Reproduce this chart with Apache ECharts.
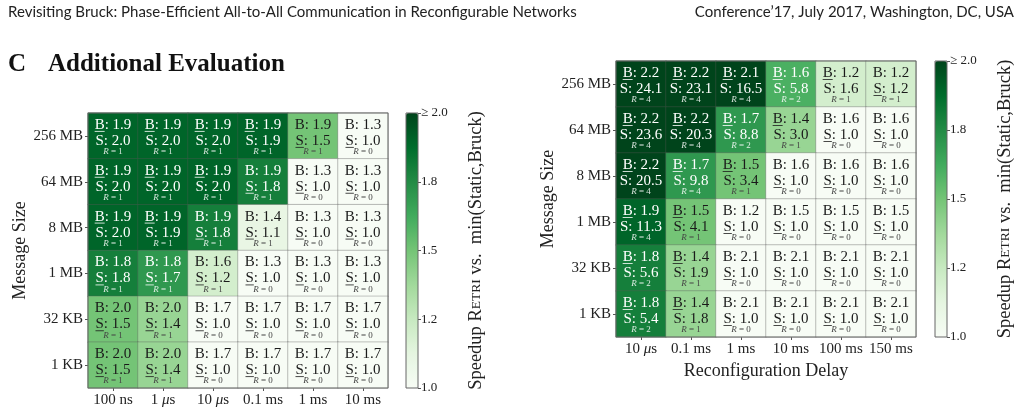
<!DOCTYPE html>
<html>
<head>
<meta charset="utf-8">
<script src="https://cdn.jsdelivr.net/npm/echarts@6/dist/echarts.min.js"></script>
<style>
  html, body { margin: 0; padding: 0; background: #fff; }
  #chart { width: 1022px; height: 409px; }
</style>
</head>
<body>
<div id="chart"></div>
<script>
// message sizes, top row first
const sizes = ['256 MB', '64 MB', '8 MB', '1 MB', '32 KB', '1 KB']
const leftDelays = ['100 ns', '1 μs', '10 μs', '0.1 ms', '1 ms', '10 ms']
const rightDelays = ['10 μs', '0.1 ms', '1 ms', '10 ms', '100 ms', '150 ms']

// B: speedup vs Bruck, S: speedup vs static, R: reconfigurations
const leftB = [
  [1.9, 1.9, 1.9, 1.9, 1.9, 1.3],
  [1.9, 1.9, 1.9, 1.9, 1.3, 1.3],
  [1.9, 1.9, 1.9, 1.4, 1.3, 1.3],
  [1.8, 1.8, 1.6, 1.3, 1.3, 1.3],
  [2.0, 2.0, 1.7, 1.7, 1.7, 1.7],
  [2.0, 2.0, 1.7, 1.7, 1.7, 1.7]
]
const leftS = [
  [2.0, 2.0, 2.0, 1.9, 1.5, 1.0],
  [2.0, 2.0, 2.0, 1.8, 1.0, 1.0],
  [2.0, 1.9, 1.8, 1.1, 1.0, 1.0],
  [1.8, 1.7, 1.2, 1.0, 1.0, 1.0],
  [1.5, 1.4, 1.0, 1.0, 1.0, 1.0],
  [1.5, 1.4, 1.0, 1.0, 1.0, 1.0]
]
const leftR = [
  [1, 1, 1, 1, 1, 0],
  [1, 1, 1, 1, 0, 0],
  [1, 1, 1, 1, 0, 0],
  [1, 1, 1, 0, 0, 0],
  [1, 1, 0, 0, 0, 0],
  [1, 1, 0, 0, 0, 0]
]
// which baseline is the smaller one (underlined)
const leftLow = ['BBBBSS', 'BBBSSS', 'BBSSSS', 'SSSSSS', 'SSSSSS', 'SSSSSS']

const rightB = [
  [2.2, 2.2, 2.1, 1.6, 1.2, 1.2],
  [2.2, 2.2, 1.7, 1.4, 1.6, 1.6],
  [2.2, 1.7, 1.5, 1.6, 1.6, 1.6],
  [1.9, 1.5, 1.2, 1.5, 1.5, 1.5],
  [1.8, 1.4, 2.1, 2.1, 2.1, 2.1],
  [1.8, 1.4, 2.1, 2.1, 2.1, 2.1]
]
const rightS = [
  [24.1, 23.1, 16.5, 5.8, 1.6, 1.2],
  [23.6, 20.3, 8.8, 3.0, 1.0, 1.0],
  [20.5, 9.8, 3.4, 1.0, 1.0, 1.0],
  [11.3, 4.1, 1.0, 1.0, 1.0, 1.0],
  [5.6, 1.9, 1.0, 1.0, 1.0, 1.0],
  [5.4, 1.8, 1.0, 1.0, 1.0, 1.0]
]
const rightR = [
  [4, 4, 4, 2, 1, 1],
  [4, 4, 2, 1, 0, 0],
  [4, 4, 1, 0, 0, 0],
  [4, 1, 0, 0, 0, 0],
  [2, 1, 0, 0, 0, 0],
  [2, 1, 0, 0, 0, 0]
]
const rightLow = ['BBBBBS', 'BBBBSS', 'BBBSSS', 'BBSSSS', 'BBSSSS', 'BBSSSS']

const cbarTicks = { 1: '1.0', 1.25: '1.2', 1.5: '1.5', 1.75: '1.8', 2: '≥ 2.0' }

const greens = ['#f7fcf5', '#e5f5e0', '#c7e9c0', '#a1d99b', '#74c476', '#41ab5d', '#238b45', '#006d2c', '#00441b']
const serif = '"Liberation Serif", "DejaVu Serif", serif'

const measureCtx = document.createElement('canvas').getContext('2d')
function textWidth(txt, font) {
  measureCtx.font = font
  return measureCtx.measureText(txt).width
}

function heatData(B, S) {
  const out = []
  B.forEach((row, r) => {
    row.forEach((b, c) => {
      out.push([c, r, Math.min(2, b, S[r][c])])
    })
  })
  return out
}

function cellIndex(B) {
  const out = []
  B.forEach((row, r) => row.forEach((b, c) => out.push([c, r])))
  return out
}

function cellText(B, S, R, low) {
  const mainFont = '15px ' + serif
  return function(params, api) {
    const c = api.value(0)
    const r = api.value(1)
    const p = api.coord([c, r])
    const b = B[r][c]
    const s = S[r][c]
    const v = Math.min(b, s)
    const dark = v >= 1.55
    const fill = dark ? '#ffffff' : '#1a1a1a'
    const soft = dark ? 'rgba(255,255,255,0.85)' : '#444'
    const bTxt = 'B: ' + b.toFixed(1)
    const sTxt = 'S: ' + s.toFixed(1)
    const isB = low[r][c] === 'B'
    const lineTxt = isB ? bTxt : sTxt
    const lineY = isB ? p[1] - 11 : p[1] + 5
    const x0 = p[0] - textWidth(lineTxt, mainFont) / 2
    const w = textWidth(isB ? 'B' : 'S', mainFont)
    return {
      type: 'group',
      children: [
        { type: 'text', x: p[0], y: p[1] - 11, style: { text: bTxt, font: mainFont, fill: fill, align: 'center', verticalAlign: 'middle' } },
        { type: 'text', x: p[0], y: p[1] + 5, style: { text: sTxt, font: mainFont, fill: fill, align: 'center', verticalAlign: 'middle' } },
        {
          type: 'text', x: p[0], y: p[1] + 16,
          style: {
            text: '{i|R} = ' + R[r][c], font: '9px ' + serif, fill: soft, align: 'center', verticalAlign: 'middle',
            rich: { i: { fontStyle: 'italic', fontSize: 9, fontFamily: serif, fill: soft } }
          }
        },
        { type: 'line', shape: { x1: x0, y1: lineY + 6.5, x2: x0 + w, y2: lineY + 6.5 }, style: { stroke: fill, lineWidth: 0.8 } }
      ]
    }
  }
}

function delayLabel(v) {
  return v.replace('μ', '{i|μ}')
}

const axisFont = { fontFamily: serif, fontSize: 15, color: '#222' }
const catX = (data, gridIndex) => ({
  type: 'category', gridIndex: gridIndex, data: data, position: 'bottom',
  axisLine: { show: false },
  axisTick: { show: true, alignWithLabel: true, length: 3, lineStyle: { color: '#555' } },
  axisLabel: Object.assign({ interval: 0, margin: 5, formatter: delayLabel, rich: { i: { fontStyle: 'italic', fontFamily: serif, fontSize: 15, color: '#222' } } }, axisFont),
  splitLine: { show: false }
})
const catY = (gridIndex) => ({
  type: 'category', gridIndex: gridIndex, data: sizes, inverse: true,
  name: 'Message Size', nameLocation: 'middle', nameGap: 59,
  nameTextStyle: { fontFamily: serif, fontSize: 18, color: '#222' },
  axisLine: { show: false },
  axisTick: { show: true, alignWithLabel: true, length: 3, lineStyle: { color: '#555' } },
  axisLabel: Object.assign({ interval: 0, margin: 5 }, axisFont),
  splitLine: { show: false }
})
const cbarY = (gridIndex) => ({
  type: 'value', gridIndex: gridIndex, min: 1, max: 2, interval: 0.25, position: 'right',
  name: 'Speedup {a|R}{b|ETRI} vs.  min(Static,Bruck)', nameLocation: 'middle', nameGap: 49,
  nameTextStyle: {
    fontFamily: serif, fontSize: 18.5, color: '#222',
    rich: { a: { fontFamily: serif, fontSize: 18.5, color: '#222' }, b: { fontFamily: serif, fontSize: 13.5, color: '#222' } }
  },
  axisLine: { show: false },
  axisTick: { show: true, length: 3, lineStyle: { color: '#555' } },
  axisLabel: { margin: 3, fontFamily: serif, fontSize: 13, color: '#222', formatter: v => cbarTicks[v] || '' },
  splitLine: { show: false }
})
const cbarX = (gridIndex) => ({ type: 'category', gridIndex: gridIndex, data: [''], show: false })

const frame = { show: true, backgroundColor: 'transparent', borderColor: '#666', borderWidth: 1, z: 10 }

const chart = echarts.init(document.getElementById('chart'))
chart.setOption({
  animation: false,
  backgroundColor: '#fff',
  title: [
    { text: 'Revisiting Bruck: Phase-Efficient All-to-All Communication in Reconfigurable Networks', left: 8, top: 5, padding: 0,
      textStyle: { fontFamily: 'Lato', fontSize: 15, fontWeight: 'normal', color: '#222' } },
    { text: 'Conference’17, July 2017, Washington, DC, USA', right: 8, top: 5, padding: 0,
      textStyle: { fontFamily: 'Lato', fontSize: 15, fontWeight: 'normal', color: '#222' } },
    { text: 'C', left: 8, top: 52, padding: 0,
      textStyle: { fontFamily: serif, fontSize: 25, fontWeight: 'bold', color: '#111' } },
    { text: 'Additional Evaluation', left: 48, top: 52, padding: 0,
      textStyle: { fontFamily: serif, fontSize: 25, fontWeight: 'bold', color: '#111' } }
  ],
  grid: [
    Object.assign({ left: 88, top: 113, width: 300, height: 275 }, frame),
    Object.assign({ left: 616, top: 61, width: 300, height: 276 }, frame),
    Object.assign({ left: 406, top: 113, width: 12, height: 275 }, frame),
    Object.assign({ left: 935, top: 61, width: 12, height: 276 }, frame)
  ],
  xAxis: [
    catX(leftDelays, 0),
    Object.assign(catX(rightDelays, 1), {
      name: 'Reconfiguration Delay', nameLocation: 'middle', nameGap: 25,
      nameTextStyle: { fontFamily: serif, fontSize: 18, color: '#222' }
    }),
    cbarX(2),
    cbarX(3)
  ],
  yAxis: [catY(0), catY(1), cbarY(2), cbarY(3)],
  visualMap: [
    { type: 'continuous', seriesIndex: 0, min: 1, max: 2, inRange: { color: greens }, calculable: false,
      left: 406, top: 113, itemWidth: 12, itemHeight: 275, padding: 0, text: null },
    { type: 'continuous', seriesIndex: 1, min: 1, max: 2, inRange: { color: greens }, calculable: false,
      left: 935, top: 61, itemWidth: 12, itemHeight: 276, padding: 0, text: null }
  ],
  series: [
    { type: 'heatmap', xAxisIndex: 0, yAxisIndex: 0, data: heatData(leftB, leftS),
      itemStyle: { borderColor: 'rgba(90,90,90,0.35)', borderWidth: 1 }, emphasis: { disabled: true } },
    { type: 'heatmap', xAxisIndex: 1, yAxisIndex: 1, data: heatData(rightB, rightS),
      itemStyle: { borderColor: 'rgba(90,90,90,0.35)', borderWidth: 1 }, emphasis: { disabled: true } },
    { type: 'custom', xAxisIndex: 0, yAxisIndex: 0, z: 20, data: cellIndex(leftB),
      renderItem: cellText(leftB, leftS, leftR, leftLow) },
    { type: 'custom', xAxisIndex: 1, yAxisIndex: 1, z: 20, data: cellIndex(rightB),
      renderItem: cellText(rightB, rightS, rightR, rightLow) }
  ]
})
</script>
</body>
</html>
